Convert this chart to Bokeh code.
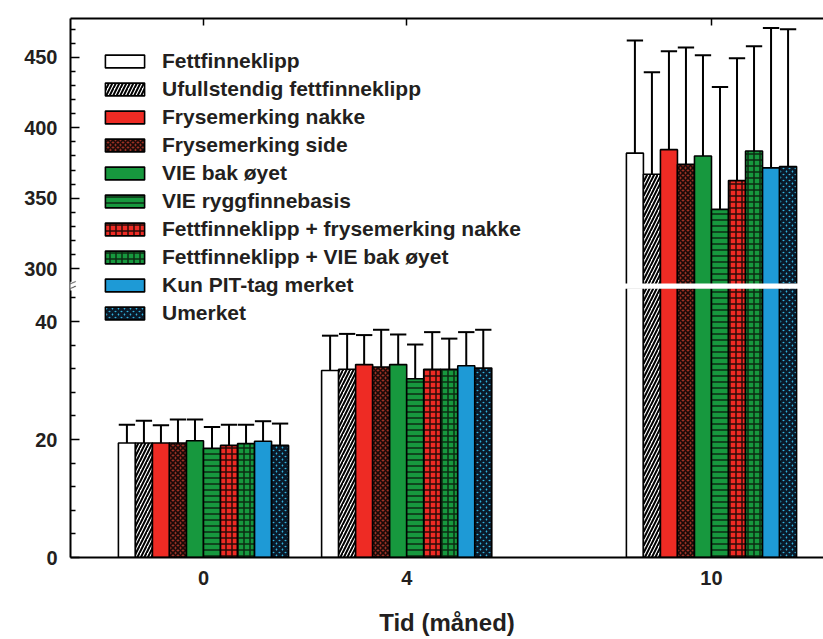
import numpy as np
from bokeh.plotting import figure
from bokeh.models import (Range1d, LinearAxis, FixedTicker, Legend, LegendItem,
                          ColumnDataSource, BoxAnnotation, PolyAnnotation)
from bokeh.embed import file_html
from bokeh.resources import INLINE

# ---------------- data ----------------
months = [0, 4, 10]
series_labels = [
    "Fettfinneklipp",
    "Ufullstendig fettfinneklipp",
    "Frysemerking nakke",
    "Frysemerking side",
    "VIE bak øyet",
    "VIE ryggfinnebasis",
    "Fettfinneklipp + frysemerking nakke",
    "Fettfinneklipp + VIE bak øyet",
    "Kun PIT-tag merket",
    "Umerket",
]
mean_fettfinneklipp = [19.4, 31.7, 382.0]
mean_ufullstendig = [19.4, 31.9, 367.0]
mean_frys_nakke = [19.4, 32.7, 384.5]
mean_frys_side = [19.4, 32.3, 374.0]
mean_vie_oyet = [19.8, 32.7, 380.0]
mean_vie_rygg = [18.5, 30.3, 342.0]
mean_fett_frys = [19.0, 31.9, 362.5]
mean_fett_vie = [19.3, 31.9, 383.5]
mean_pit = [19.7, 32.5, 371.5]
mean_umerket = [19.0, 32.1, 372.5]

sd_fettfinneklipp = [3.1, 5.9, 80.0]
sd_ufullstendig = [3.8, 6.0, 72.5]
sd_frys_nakke = [3.0, 5.0, 70.0]
sd_frys_side = [4.0, 6.3, 83.0]
sd_vie_oyet = [3.6, 5.1, 71.5]
sd_vie_rygg = [3.6, 5.8, 87.0]
sd_fett_frys = [3.5, 6.3, 87.0]
sd_fett_vie = [3.2, 5.2, 74.5]
sd_pit = [3.4, 5.7, 99.5]
sd_umerket = [3.7, 6.5, 97.5]

means = [mean_fettfinneklipp, mean_ufullstendig, mean_frys_nakke, mean_frys_side,
         mean_vie_oyet, mean_vie_rygg, mean_fett_frys, mean_fett_vie, mean_pit, mean_umerket]
sds = [sd_fettfinneklipp, sd_ufullstendig, sd_frys_nakke, sd_frys_side,
       sd_vie_oyet, sd_vie_rygg, sd_fett_frys, sd_fett_vie, sd_pit, sd_umerket]

lower_major = [0, 20, 40]
lower_minor = [4, 8, 12, 16, 24, 28, 32, 36, 44]
upper_major = [300, 350, 400, 450]
upper_minor = [310, 320, 330, 340, 360, 370, 380, 390, 410, 420, 430, 440, 460, 470]

# ---------------- layout / styles ----------------
RED = "#ee2b24"
GREEN = "#17983e"
BLUE = "#1e9ad6"
styles = [
    dict(fill_color="white"),
    dict(fill_color="white", hatch_pattern="/", hatch_color="black", hatch_scale=7, hatch_weight=2),
    dict(fill_color=RED),
    dict(fill_color="#9c3024", hatch_pattern="x", hatch_color="#1a0a08", hatch_scale=5, hatch_weight=1.6),
    dict(fill_color=GREEN),
    dict(fill_color=GREEN, hatch_pattern="-", hatch_color="#0b2a12", hatch_scale=6, hatch_weight=1.5),
    dict(fill_color=RED, hatch_pattern="+", hatch_color="#2a0a08", hatch_scale=6, hatch_weight=1.5),
    dict(fill_color=GREEN, hatch_pattern="+", hatch_color="#0b2a12", hatch_scale=6, hatch_weight=1.5),
    dict(fill_color=BLUE),
    dict(fill_color="#2fb2dd", hatch_pattern="x", hatch_color="#0a1a2a", hatch_scale=6, hatch_weight=3),
]

FONT = "Liberation Sans"
TXT = "#231f20"

LOW = (0.0, 91.36)          # lower (0-46) segment scale
UP = (94.6, 477.7)          # upper (288-478) segment scale
BREAK_LOW = 46.2
BREAK_UP = 286.5
BAND = (45.55, 46.45)
X_RANGE = (-2.618, 12.205)


def to_low(v):
    return round(LOW[0] + (v - UP[0]) / (UP[1] - UP[0]) * (LOW[1] - LOW[0]), 4)


p = figure(width=823, height=639,
           x_range=Range1d(*X_RANGE), y_range=Range1d(*LOW),
           output_backend="svg", toolbar_location=None,
           min_border_left=70, min_border_right=0, min_border_top=18, min_border_bottom=82)
p.extra_y_ranges = {"upper": Range1d(*UP)}
p.outline_line_color = None
p.xgrid.visible = False
p.ygrid.visible = False
p.background_fill_color = "white"
p.border_fill_color = "white"

bw = 0.335
cap = bw * 0.48
bar_renderers = []
for i, (m, s, st) in enumerate(zip(means, sds, styles)):
    x = np.array(months, dtype=float) + (i - 4.5) * bw
    m = np.array(m)
    s = np.array(s)
    up = m > BREAK_UP
    lo = ~up
    r = p.vbar(x="x", top="top", bottom=0, width=bw,
               source=ColumnDataSource(dict(x=x, top=np.minimum(m, BREAK_LOW))),
               line_color="black", line_width=1.6, **st)
    bar_renderers.append(r)
    p.vbar(x="x", top="top", bottom=BREAK_UP, width=bw,
           source=ColumnDataSource(dict(x=x[up], top=m[up])),
           line_color="black", line_width=1.6, y_range_name="upper", **st)
    # error bars (upper side only)
    p.segment(x0=x[lo], y0=m[lo], x1=x[lo], y1=(m + s)[lo], line_color="black", line_width=2)
    p.segment(x0=x[lo] - cap, y0=(m + s)[lo], x1=x[lo] + cap, y1=(m + s)[lo],
              line_color="black", line_width=2)
    p.segment(x0=x[up], y0=m[up], x1=x[up], y1=(m + s)[up], line_color="black", line_width=2,
              y_range_name="upper")
    p.segment(x0=x[up] - cap, y0=(m + s)[up], x1=x[up] + cap, y1=(m + s)[up],
              line_color="black", line_width=2, y_range_name="upper")

# axis break band across the plot
p.add_layout(BoxAnnotation(bottom=BAND[0], top=BAND[1], fill_color="white", fill_alpha=1.0,
                           line_alpha=0))
# break mark on the y axis line
x0 = X_RANGE[0]
dx = 0.1
p.add_layout(BoxAnnotation(left=x0 - dx, right=x0 + dx, bottom=BAND[0] - 0.3, top=BAND[1] + 0.3,
                           fill_color="white", fill_alpha=1.0, line_alpha=0))
for yb in (BAND[0] - 0.35, BAND[1] - 0.45):
    p.add_layout(PolyAnnotation(xs=[x0 - dx, x0 + dx, x0 + dx, x0 - dx],
                                ys=[yb, yb + 0.75, yb + 0.8, yb + 0.05],
                                fill_color="black", fill_alpha=1.0,
                                line_color="black", line_width=1.2))

# y axis (broken): lower ticks in lower units, upper ticks mapped into lower units
yax = p.yaxis[0]
ticks = [float(t) for t in lower_major] + [to_low(v) for v in upper_major]
minor = [float(t) for t in lower_minor] + [to_low(v) for v in upper_minor]
yax.ticker = FixedTicker(ticks=ticks, minor_ticks=minor)
overrides = {float(t): str(t) for t in lower_major}
overrides.update({to_low(v): str(v) for v in upper_major})
yax.major_label_overrides = overrides
yax.major_tick_in = 9
yax.major_tick_out = 0
yax.minor_tick_in = 5
yax.minor_tick_out = 0
yax.major_tick_line_width = 1.5
yax.minor_tick_line_width = 1.5
yax.axis_line_width = 2
yax.major_label_standoff = 13
yax.major_label_text_font = FONT
yax.major_label_text_font_style = "bold"
yax.major_label_text_font_size = "20px"
yax.major_label_text_color = TXT

xax = p.xaxis[0]
xax.ticker = FixedTicker(ticks=months)
xax.major_tick_in = 0
xax.major_tick_out = 0
xax.minor_tick_line_color = None
xax.axis_line_width = 2
xax.major_label_standoff = 13
xax.major_label_text_font = FONT
xax.major_label_text_font_style = "bold"
xax.major_label_text_font_size = "20px"
xax.major_label_text_color = TXT
xax.axis_label = "Tid (måned)"
xax.axis_label_text_font = FONT
xax.axis_label_text_font_style = "bold"
xax.axis_label_text_font_size = "24px"
xax.axis_label_text_color = TXT
xax.axis_label_standoff = 21

top_axis = LinearAxis(ticker=FixedTicker(ticks=months), major_tick_in=7, major_tick_out=0,
                      minor_tick_line_color=None, axis_line_width=2,
                      major_tick_line_width=1.5,
                      major_label_overrides={0: "", 4: "", 10: ""},
                      major_label_standoff=0)
p.add_layout(top_axis, "above")

legend = Legend(items=[LegendItem(label=lab, renderers=[r]) for lab, r in zip(series_labels, bar_renderers)],
                location="top_left", margin=0, padding=30, spacing=3,
                glyph_width=49, glyph_height=16, label_height=25, label_standoff=13,
                label_text_font=FONT, label_text_font_style="bold", label_text_font_size="21px",
                label_text_color=TXT, background_fill_alpha=0, border_line_alpha=0)
p.add_layout(legend)

open("out.html", "w").write(file_html(p, INLINE))
